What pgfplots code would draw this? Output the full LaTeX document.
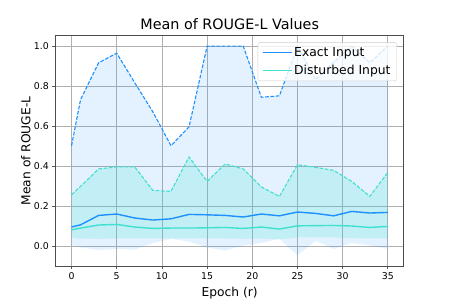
\documentclass[border=0pt]{standalone}
\usepackage{fontspec}
\setmainfont{DejaVu Sans}
\usepackage{pgfplots}
\pgfplotsset{compat=1.18}
\usepackage{pgfplotstable}
\usepgfplotslibrary{fillbetween}
\definecolor{exact}{HTML}{1E90FF}
\definecolor{dist}{HTML}{40E0D0}
\definecolor{gridc}{HTML}{B0B0B0}
\pgfplotstableread{
e  em    eu    el     dm    du    dl
0  0.097 0.503 0.005  0.083 0.258 0.045
1  0.108 0.733 -0.005 0.092 0.300 0.040
3  0.155 0.917 -0.017 0.107 0.387 0.038
5  0.162 0.965 -0.012 0.110 0.397 0.040
7  0.142 0.817 -0.015 0.097 0.397 0.040
9  0.132 0.672 0.017  0.090 0.280 0.040
11 0.138 0.503 0.038  0.092 0.275 0.040
13 0.160 0.597 0.025  0.092 0.447 0.040
15 0.158 1.000 -0.005 0.093 0.325 0.040
17 0.155 1.000 -0.020 0.095 0.412 0.040
19 0.147 1.000 0.005  0.090 0.387 0.038
21 0.162 0.745 0.017  0.097 0.297 0.040
23 0.153 0.752 0.038  0.087 0.250 0.035
25 0.172 1.000 -0.045 0.103 0.408 0.045
27 0.165 0.833 0.028  0.104 0.395 0.045
29 0.153 0.920 -0.012 0.105 0.380 0.045
31 0.175 1.000 0.017  0.102 0.325 0.042
33 0.167 0.917 0.005  0.095 0.250 0.040
35 0.170 1.000 -0.012 0.100 0.370 0.040
}\data
\begin{document}
\begin{tikzpicture}
\begin{axis}[
  scale only axis, width=348bp, height=230.3bp,
  anchor=south west, at={(0,0)},
  xmin=-1.75, xmax=36.75, ymin=-0.0975, ymax=1.0523,
  xtick={0,5,...,35}, ytick={0,0.2,...,1.0},
  yticklabel style={/pgf/number format/.cd, fixed, fixed zerofill, precision=1},
  /pgf/number format/assume math mode=true,
  tick label style={font=\fontsize{9.4}{11}\selectfont},
  tick align=outside, major tick length=3.4bp,
  tick style={gridc!50!black, line width=0.8bp},
  xtick pos=bottom, ytick pos=left,
  grid=major, grid style={gridc, line width=0.8bp},
  axis line style={black!70, line width=0.8bp},
  title={Mean of ROUGE-L Values},
  title style={font=\fontsize{14.4}{16}\selectfont, yshift=-4bp},
  xlabel={Epoch (r)}, ylabel={Mean of ROUGE-L},
  ylabel shift=-3.5bp,
  label style={font=\fontsize{12.3}{14}\selectfont},
  legend style={at={(0.98,0.971)}, anchor=north east, font=\fontsize{12.4}{14}\selectfont,
    draw=black!20, fill=white, fill opacity=0.8, text opacity=1, draw opacity=1, rounded corners=2bp,
    inner xsep=4bp, inner ysep=3bp, row sep=3bp},
  legend cell align=left,
  legend image code/.code={%
    \draw[#1] (0bp,0bp) -- (25bp,0bp);
    \path (0bp,0bp) -- (29bp,0bp);},
]
\addlegendimage{exact, line width=1.3bp}
\addlegendentry{Exact Input}
\addlegendimage{dist, line width=1.3bp}
\addlegendentry{Disturbed Input}
\addplot[draw=none, name path=eu, forget plot] table[x=e, y=eu] {\data};
\addplot[draw=none, name path=el, forget plot] table[x=e, y=el] {\data};
\addplot[exact, fill opacity=0.12, draw=none, forget plot] fill between[of=eu and el];
\addplot[draw=none, name path=du, forget plot] table[x=e, y=du] {\data};
\addplot[draw=none, name path=dl, forget plot] table[x=e, y=dl] {\data};
\addplot[dist, fill opacity=0.2, draw=none, forget plot] fill between[of=du and dl];
\addplot[exact, line width=1.1bp, dash pattern=on 3.7bp off 1.6bp, forget plot] table[x=e, y=eu] {\data};
\addplot[dist, line width=1.1bp, dash pattern=on 3.7bp off 1.6bp, forget plot] table[x=e, y=du] {\data};
\addplot[exact, line width=1.4bp, forget plot] table[x=e, y=em] {\data};
\addplot[dist, line width=1.4bp, forget plot] table[x=e, y=dm] {\data};
\end{axis}
\path (-55.7bp,-33bp) rectangle (393.3bp,266bp);
\end{tikzpicture}
\end{document}
